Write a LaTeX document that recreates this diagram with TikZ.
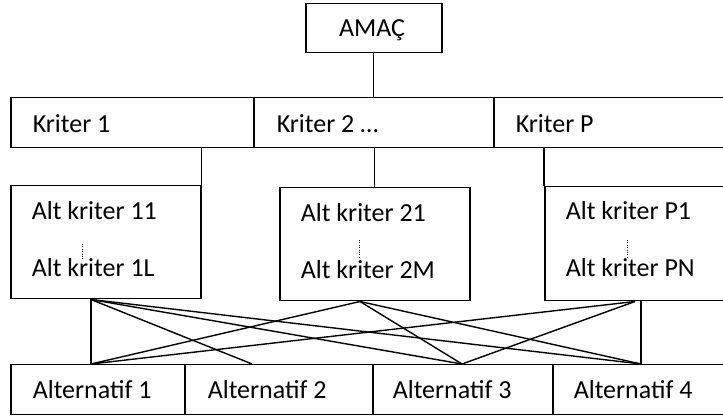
\documentclass[tikz,border=0pt]{standalone}
\usepackage{fontspec}
\setmainfont{Carlito}
\begin{document}
\begin{tikzpicture}[x=1pt,y=-1pt,line width=1.5pt,
  cell/.style={draw,line width=1.5pt,inner sep=0pt,anchor=north west},
  txt/.style={inner sep=0pt,anchor=base west,font=\fontsize{26}{31}\selectfont},
  ctxt/.style={inner sep=0pt,anchor=base,font=\fontsize{26}{31}\selectfont},
  dots/.style={line width=1pt,dash pattern=on 1pt off 1.4pt},
  link/.style={line width=1.4pt}]
\useasboundingbox (0,0) rectangle (723,419);
\clip (0,0) rectangle (723,419);
% boxes
\node[cell,minimum width=136pt,minimum height=49pt] (amac) at (305,3) {};
\node[cell,minimum width=243pt,minimum height=50pt] (k1) at (10,97) {};
\node[cell,minimum width=240pt,minimum height=50pt] (k2) at (253,97) {};
\node[cell,minimum width=234pt,minimum height=50pt] (k3) at (493,97) {};
\node[cell,minimum width=190pt,minimum height=113pt] (b1) at (10,185) {};
\node[cell,minimum width=190pt,minimum height=113pt] (b2) at (279,187) {};
\node[cell,minimum width=183pt,minimum height=114pt] (b3) at (544,186) {};
\node[cell,minimum width=174pt,minimum height=50pt] (a1) at (10,364) {};
\node[cell,minimum width=188pt,minimum height=50pt] (a2) at (184,364) {};
\node[cell,minimum width=180pt,minimum height=50pt] (a3) at (372,364) {};
\node[cell,minimum width=175pt,minimum height=50pt] (a4) at (552,364) {};
% texts
\node[ctxt] (tamac) at (372,37) {AMAÇ};
\node[txt] (tk1) at (32,133) {Kriter 1};
\node[txt] (tk2) at (276,133) {Kriter 2 …};
\node[txt] (tk3) at (515,133) {Kriter P};
\node[txt] (tb1a) at (31,220) {Alt kriter 11};
\node[txt] (tb1b) at (31,277) {Alt kriter 1L};
\node[txt] (tb2a) at (300,222) {Alt kriter 21};
\node[txt] (tb2b) at (300,279) {Alt kriter 2M};
\node[txt] (tb3a) at (565,220) {Alt kriter P1};
\node[txt] (tb3b) at (565,277) {Alt kriter PN};
\node[txt] (ta1) at (32,399) {Alternatif 1};
\node[txt] (ta2) at (207,399) {Alternatif 2};
\node[txt] (ta3) at (392,399) {Alternatif 3};
\node[txt] (ta4) at (573,399) {Alternatif 4};
% dotted separators
\draw[dots] (82,244) -- (82,260);
\draw[dots] (359,240) -- (359,259);
\draw[dots] (627,240) -- (627,259);
% hierarchy connectors
\draw[link] (amac.south) -- (amac.south |- k2.north);
\draw[link] (b1.north east) -- (b1.north east |- k1.south);
\draw[link] (b2.north) -- (b2.north |- k2.south);
\draw[link] (b3.north west) -- (b3.north west |- k3.south);
% end points
\path (b1.south west) ++(81,0) coordinate (p1);
\path (b2.south west) ++(81,0) coordinate (p2);
\path (b3.south west) ++(91,0) coordinate (p3);
\path (b3.south west) ++(97,0) coordinate (p3v);
\path (a1.north west) ++(81,0) coordinate (q1);
\path (a2.north west) ++(68,0) coordinate (q2);
\path (a3.north west) ++(90,0) coordinate (q3);
\path (a4.north west) ++(89,0) coordinate (q4);
% cross connectors
\draw[link] (p1) -- (q1);
\draw[link] (p1) -- (q2);
\draw[link] (p1) -- (q3);
\draw[link] (p1) -- (q4);
\draw[link] (p2) -- (q1);
\draw[link] (p2) -- (q3);
\draw[link] (p2) -- (q4);
\draw[link] (p3) -- (q1);
\draw[link] (p3) -- (q3);
\draw[link] (p3v) -- (q4);
\end{tikzpicture}
\end{document}
